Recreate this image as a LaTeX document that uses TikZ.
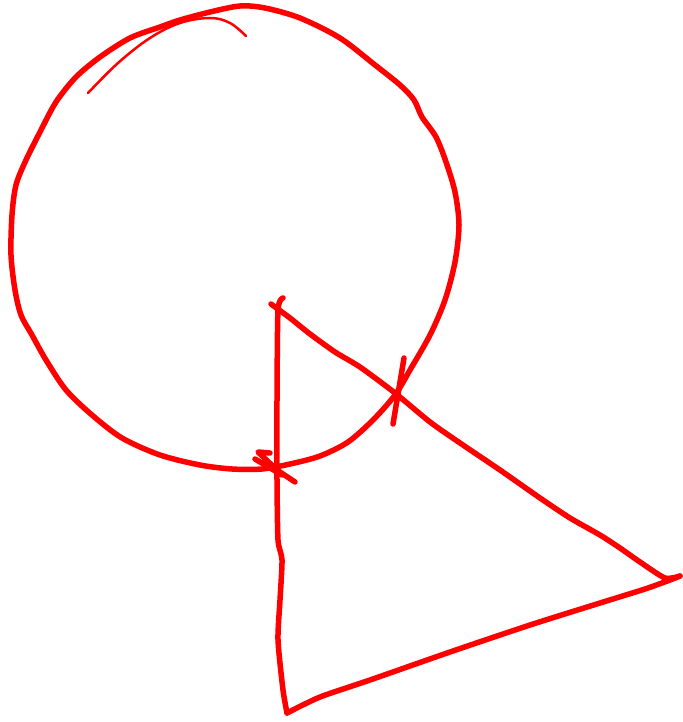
\documentclass[tikz,border=0pt]{standalone}
\begin{document}
\begin{tikzpicture}[x=1pt,y=-1pt,
  pen/.style={draw=red,line width=5.5pt,line cap=round,line join=round},
  thinpen/.style={draw=red,line width=2.5pt,line cap=round,line join=round}]
\useasboundingbox (0,0) rectangle (682,722);
% circle
\draw[pen] plot[smooth cycle,tension=0.5] coordinates {
(180,20) (210,12) (240,6) (265,8) (300,18) (340,38) (375,65) (400,85) (414,100)
(422,117) (436,137) (446,162) (455,192) (459,225) (455,262) (445,300) (430,335)
(410,370) (395,395) (373,420) (348,442) (320,456) (290,464) (262,469) (232,469)
(200,465) (160,455) (122,438) (92,415) (66,390) (46,360) (32,335) (21,315)
(15,290) (11,255) (12,215) (16,185) (26,160) (40,132) (56,102) (76,77) (100,57)
(130,38) (160,27)};
% extra stroke at top
\draw[thinpen] plot[smooth,tension=0.6] coordinates {
(88,93) (118,63) (150,38) (180,23) (210,18) (230,23) (246,36)};
% triangle
\draw[pen] plot[smooth,tension=0.4] coordinates {
(283,298) (278,310) (277,400) (277,480) (278,540) (282,560) (280,600) (278,640) (283,690) (287,713)};
\draw[pen] plot[smooth,tension=0.4] coordinates {
(287,713) (320,697) (370,680) (450,652) (530,625) (600,603) (645,589) (670,580) (680,576)};
\draw[pen] plot[smooth,tension=0.4] coordinates {
(680,576) (665,578) (640,562) (620,548) (600,535) (570,518) (540,498) (500,470)
(460,443) (430,422) (395,393) (360,367) (335,352) (310,334) (290,318) (271,304)};
% tick marks
\draw[pen] (404,358) -- (393,424);
\draw[pen] (270,453) -- (258,452) -- (277,470) -- (295,482);
\draw[pen] (255,459) -- (282,475);
\end{tikzpicture}
\end{document}
